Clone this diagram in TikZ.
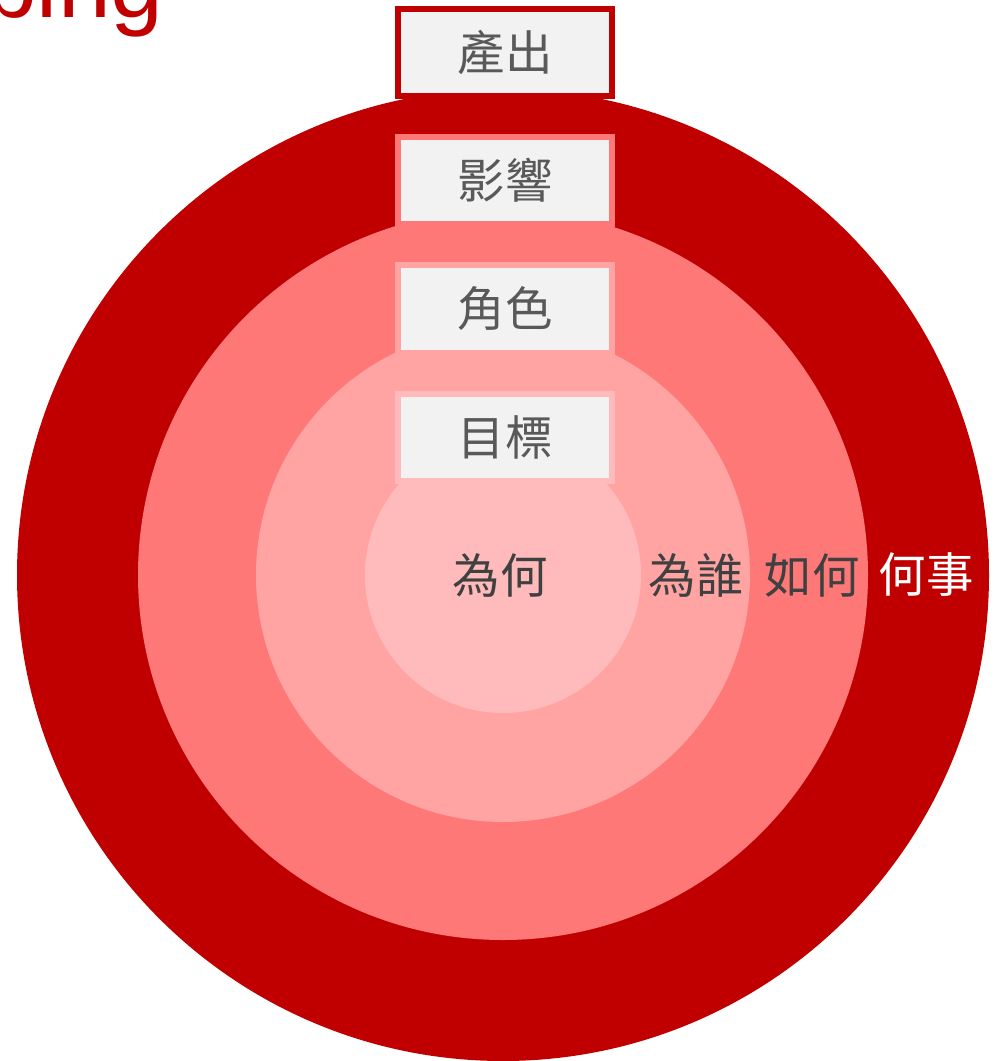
\documentclass[tikz,border=0pt]{standalone}
\usepackage{fontspec}
\setmainfont{Liberation Sans}
\newfontfamily\cjk{Noto Sans CJK TC}
\usetikzlibrary{positioning}

\definecolor{ringA}{HTML}{C00000}
\definecolor{ringB}{HTML}{FF7878}
\definecolor{ringC}{HTML}{FFA3A3}
\definecolor{ringD}{HTML}{FFBBBB}
\definecolor{boxfill}{HTML}{F2F2F2}
\definecolor{boxtext}{HTML}{595959}
\definecolor{labeltext}{HTML}{404040}

\begin{document}
\begin{tikzpicture}[x=0.02cm, y=-0.02cm]

\tikzset{levelbox/.style = {draw, fill=boxfill, text=boxtext, line width=0.12cm,
    minimum width=4.28cm, minimum height=1.76cm, inner sep=0pt,
    font=\cjk\fontsize{27}{27}\selectfont}}
\tikzset{ringlabel/.style = {text=labeltext, inner sep=0pt,
    font=\cjk\fontsize{27}{27}\selectfont}}

\useasboundingbox (0,0) rectangle (1005,1061);

% title (cut off at the page edge)
\node[anchor=base east, inner sep=0pt, text=ringA,
      font=\fontsize{54}{54}\selectfont] (title) at (164,18) {Mapping};

% circles
\coordinate (c) at (503,575);
\fill[ringA] (c) circle[radius=486];
\fill[ringB] (c) circle[radius=365];
\fill[ringC] (c) circle[radius=247];
\fill[ringD] (c) circle[radius=138];

% boxes
\node[levelbox, draw=ringA] (output) at (505,52.5) {產出};
\node[levelbox, draw=ringB] (impact) at (505,180.5) {影響};
\node[levelbox, draw=ringC] (actor)  at (505,309) {角色};
\node[levelbox, draw=ringD] (goal)   at (505,437.5) {目標};

% labels
\node[ringlabel] (why)  at (500,575) {為何};
\node[ringlabel] (who)  at (696,575) {為誰};
\node[ringlabel] (how)  at (812,575) {如何};
\node[ringlabel, text=white] (what) at (926,575) {何事};

\end{tikzpicture}
\end{document}
